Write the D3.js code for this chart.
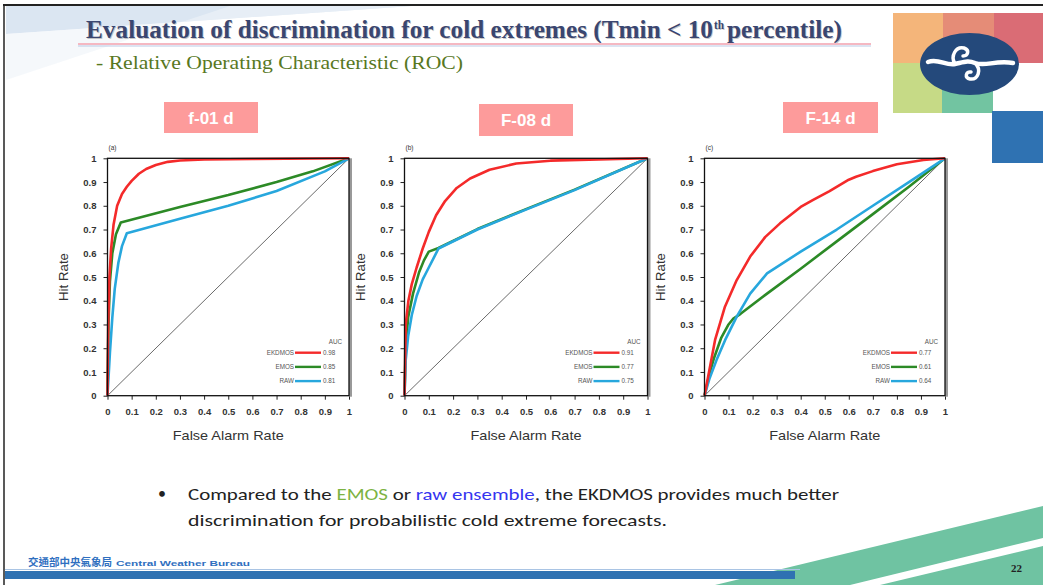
<!DOCTYPE html>
<html>
<head>
<meta charset="utf-8">
<script src="https://cdn.jsdelivr.net/npm/d3@7"></script>
<style>
  html, body { margin: 0; padding: 0; background: #fff; }
  svg { display: block; }
</style>
</head>
<body>
<svg id="slide" width="1043" height="585"></svg>
<script>
// ---- ROC data: [false alarm rate, hit rate] ----
const panelTitles = ["f-01 d", "F-08 d", "F-14 d"];
const panelTags = ["(a)", "(b)", "(c)"];
const seriesNames = ["EKDMOS", "EMOS", "RAW"];
const seriesColors = ["#f42a2a", "#2c8a26", "#27a7dd"];
const ticks = [0, 0.1, 0.2, 0.3, 0.4, 0.5, 0.6, 0.7, 0.8, 0.9, 1];
const tickLabels = ["0", "0.1", "0.2", "0.3", "0.4", "0.5", "0.6", "0.7", "0.8", "0.9", "1"];

const aucA = ["0.98", "0.85", "0.81"];
const aucB = ["0.91", "0.77", "0.75"];
const aucC = ["0.77", "0.61", "0.64"];

const ekdmosA = [[0,0],[0.003,0.3],[0.008,0.5],[0.015,0.62],[0.025,0.72],[0.04,0.8],[0.06,0.85],[0.08,0.88],[0.1,0.905],[0.13,0.935],[0.16,0.955],[0.2,0.972],[0.25,0.985],[0.3,0.991],[0.4,0.995],[0.6,0.997],[1,1]];
const emosA = [[0,0],[0.004,0.3],[0.01,0.48],[0.02,0.6],[0.035,0.68],[0.055,0.73],[0.3,0.795],[0.5,0.845],[0.7,0.9],[0.85,0.945],[1,1]];
const rawA = [[0,0],[0.01,0.18],[0.02,0.33],[0.03,0.45],[0.045,0.56],[0.06,0.63],[0.08,0.684],[0.3,0.745],[0.5,0.8],[0.7,0.862],[0.9,0.945],[1,1]];

const ekdmosB = [[0,0],[0.005,0.3],[0.016,0.4],[0.03,0.47],[0.05,0.54],[0.075,0.62],[0.1,0.69],[0.13,0.76],[0.167,0.82],[0.215,0.875],[0.27,0.915],[0.35,0.952],[0.46,0.978],[0.6,0.99],[1,1]];
const emosB = [[0,0],[0.005,0.2],[0.015,0.33],[0.035,0.43],[0.06,0.52],[0.08,0.57],[0.1,0.607],[0.14,0.622],[0.3,0.702],[0.5,0.786],[0.7,0.868],[1,1]];
const rawB = [[0,0],[0.005,0.15],[0.015,0.25],[0.03,0.34],[0.05,0.42],[0.075,0.49],[0.1,0.54],[0.125,0.59],[0.14,0.62],[0.3,0.7],[0.5,0.784],[0.7,0.866],[1,1]];

const ekdmosC = [[0,0],[0.017,0.09],[0.044,0.235],[0.085,0.375],[0.134,0.487],[0.19,0.586],[0.252,0.668],[0.314,0.726],[0.4,0.795],[0.45,0.824],[0.52,0.862],[0.6,0.91],[0.63,0.922],[0.7,0.946],[0.8,0.975],[0.91,0.993],[1,1]];
const emosC = [[0,0],[0.02,0.09],[0.04,0.16],[0.07,0.245],[0.1,0.3],[0.12,0.325],[0.15,0.345],[0.26,0.43],[0.4,0.535],[0.55,0.65],[0.7,0.765],[0.85,0.88],[1,1]];
const rawC = [[0,0],[0.02,0.07],[0.05,0.15],[0.086,0.235],[0.134,0.333],[0.19,0.43],[0.26,0.515],[0.4,0.607],[0.55,0.7],[0.7,0.8],[0.85,0.9],[1,1]];

const panelSeries = [[ekdmosA, emosA, rawA], [ekdmosB, emosB, rawB], [ekdmosC, emosC, rawC]];
const panelAuc = [aucA, aucB, aucC];

// ---- layout ----
const plots = [
  { left: 107.5, right: 349, top: 158.3, bottom: 395.7, badge: [164, 102, 94, 31] },
  { left: 404.5, right: 647.5, top: 158.3, bottom: 395.7, badge: [479, 104, 94, 32] },
  { left: 704.5, right: 945, top: 158.3, bottom: 395.7, badge: [783, 102, 95, 31] }
];

const svg = d3.select("#slide");

// ---- slide background decoration ----
svg.append("rect").attr("width", 1043).attr("height", 585).attr("fill", "#fff");
svg.append("path")
  .attr("d", "M6,6 L412,6 L6,34 Z")
  .attr("fill", "#dbe6f2");
svg.append("path")
  .attr("d", "M6,34 L412,6 L230,6 L6,80 Z")
  .attr("fill", "#eef3f9").attr("opacity", 0.6);

// frame lines
svg.append("line").attr("x1", 3).attr("x2", 1043).attr("y1", 5).attr("y2", 5)
  .attr("stroke", "#222").attr("stroke-width", 2);
svg.append("line").attr("x1", 4).attr("x2", 4).attr("y1", 5).attr("y2", 585)
  .attr("stroke", "#222").attr("stroke-width", 1.5);

// logo tiles
const tiles = [
  [893, 13, 50, 50, "#f4b57a"], [943, 13, 51, 50, "#e58c77"], [994, 13, 49, 50, "#da6c75"],
  [893, 63, 49, 50, "#c6da86"], [942, 63, 51, 50, "#72c4a1"], [992, 111, 51, 52, "#2f72b2"]
];
svg.append("g").selectAll("rect").data(tiles).join("rect")
  .attr("x", d => d[0]).attr("y", d => d[1]).attr("width", d => d[2]).attr("height", d => d[3])
  .attr("fill", d => d[4]);
svg.append("ellipse").attr("cx", 969.5).attr("cy", 64).attr("rx", 49.5).attr("ry", 31)
  .attr("fill", "#24497b");
const swirl = svg.append("g").attr("fill", "none").attr("stroke", "#fff")
  .attr("stroke-linecap", "round").attr("stroke-linejoin", "round");
swirl.append("path").attr("d", "M928,62 C938,58 946,66 955,64 C964,62 968,60 975,63 C985,67 995,60 1013,63")
  .attr("stroke-width", 4.5);
swirl.append("path").attr("d", "M955,64 C950,56 956,46 964,48 C970,50 968,56 963,56")
  .attr("stroke-width", 3.5);
swirl.append("path").attr("d", "M975,63 C982,70 978,80 970,79 C964,78 966,71 971,72")
  .attr("stroke-width", 3.5);

// ---- title ----
const title = svg.append("g").attr("font-family", "'Liberation Serif', 'Times New Roman', serif")
  .attr("font-weight", "bold");
[[1, "rgba(0,0,0,0.22)"], [0, "#3a4670"]].forEach(([off, col]) => {
  const g = title.append("g").attr("transform", `translate(${off},${off})`).attr("fill", col);
  g.append("text").attr("x", 86).attr("y", 38).attr("font-size", 25)
    .attr("textLength", 627).attr("lengthAdjust", "spacingAndGlyphs")
    .text("Evaluation of discrimination for cold extremes (Tmin < 10");
  g.append("text").attr("x", 714).attr("y", 29).attr("font-size", 13)
    .attr("textLength", 10).attr("lengthAdjust", "spacingAndGlyphs").text("th");
  g.append("text").attr("x", 727).attr("y", 38).attr("font-size", 25)
    .attr("textLength", 115).attr("lengthAdjust", "spacingAndGlyphs").text("percentile)");
});
svg.append("line").attr("x1", 78).attr("x2", 871).attr("y1", 44).attr("y2", 44)
  .attr("stroke", "#f5b8c2").attr("stroke-width", 2);
svg.append("line").attr("x1", 78).attr("x2", 871).attr("y1", 46).attr("y2", 46)
  .attr("stroke", "#b9c9e6").attr("stroke-width", 1.2);

svg.append("text").attr("x", 96).attr("y", 69)
  .attr("font-family", "'Liberation Serif', 'Times New Roman', serif")
  .attr("font-size", 19).attr("fill", "#58781f")
  .attr("textLength", 367).attr("lengthAdjust", "spacingAndGlyphs")
  .text("- Relative Operating Characteristic (ROC)");

// ---- ROC panels ----
const fontAxis = "'Liberation Sans', Arial, Helvetica, sans-serif";

plots.forEach((p, i) => {
  const x = d3.scaleLinear().domain([0, 1]).range([p.left, p.right]);
  const y = d3.scaleLinear().domain([0, 1]).range([p.bottom, p.top]);
  const g = svg.append("g");

  // badge
  const b = p.badge;
  g.append("rect").attr("x", b[0]).attr("y", b[1]).attr("width", b[2]).attr("height", b[3])
    .attr("fill", "#fd9b9b");
  g.append("text").attr("x", b[0] + b[2] / 2).attr("y", b[1] + b[3] / 2 + 6)
    .attr("text-anchor", "middle").attr("font-family", fontAxis)
    .attr("font-weight", "bold").attr("font-size", 17).attr("fill", "#fff")
    .text(panelTitles[i]);

  // panel tag
  g.append("text").attr("x", p.left + 1).attr("y", p.top - 8)
    .attr("font-family", fontAxis).attr("font-size", 6.5).attr("fill", "#333")
    .text(panelTags[i]);

  // axes
  const xAxis = d3.axisBottom(x).tickValues(ticks).tickFormat((d, k) => tickLabels[k])
    .tickSizeInner(4).tickSizeOuter(0).tickPadding(9);
  const yAxis = d3.axisLeft(y).tickValues(ticks).tickFormat((d, k) => tickLabels[k])
    .tickSizeInner(4).tickSizeOuter(0).tickPadding(7);
  const gx = g.append("g").attr("transform", `translate(0,${p.bottom})`).call(xAxis);
  const gy = g.append("g").attr("transform", `translate(${p.left},0)`).call(yAxis);
  [gx, gy].forEach(ax => {
    ax.select(".domain").remove();
    ax.selectAll(".tick line").attr("stroke", "#222").attr("stroke-width", 1);
    ax.selectAll(".tick text").attr("font-family", fontAxis).attr("font-size", 9.5)
      .attr("font-weight", "bold").attr("fill", "#333");
  });

  // axis titles
  g.append("text").attr("transform", `translate(${p.left - 40},${(p.top + p.bottom) / 2}) rotate(-90)`)
    .attr("text-anchor", "middle").attr("font-family", fontAxis).attr("font-size", 13.5)
    .attr("fill", "#333").attr("textLength", 48).attr("lengthAdjust", "spacingAndGlyphs")
    .text("Hit Rate");
  g.append("text").attr("x", (p.left + p.right) / 2).attr("y", p.bottom + 44)
    .attr("text-anchor", "middle").attr("font-family", fontAxis).attr("font-size", 13.5)
    .attr("fill", "#333").attr("textLength", 111).attr("lengthAdjust", "spacingAndGlyphs")
    .text("False Alarm Rate");

  // no-skill diagonal
  g.append("line").attr("x1", x(0)).attr("y1", y(0)).attr("x2", x(1)).attr("y2", y(1))
    .attr("stroke", "#444").attr("stroke-width", 0.8);

  // curves: EMOS, then RAW, then EKDMOS on top
  const line = d3.line().x(d => x(d[0])).y(d => y(d[1]));
  [1, 2, 0].forEach(k => {
    g.append("path").datum(panelSeries[i][k]).attr("d", line)
      .attr("fill", "none").attr("stroke", seriesColors[k]).attr("stroke-width", 2.6)
      .attr("stroke-linejoin", "round");
  });

  // frame with shaded right edge
  g.append("rect").attr("x", p.right).attr("y", p.top).attr("width", 3).attr("height", p.bottom - p.top + 1)
    .attr("fill", "#999");
  g.append("rect").attr("x", p.left).attr("y", p.top).attr("width", p.right - p.left).attr("height", p.bottom - p.top)
    .attr("fill", "none").attr("stroke", "#111").attr("stroke-width", 1.3);

  // legend
  const lg = g.append("g").attr("font-family", fontAxis).attr("font-size", 6.3).attr("fill", "#555");
  lg.append("text").attr("x", p.right - 7).attr("y", p.bottom - 52).attr("text-anchor", "end").text("AUC");
  seriesNames.forEach((name, k) => {
    const yy = p.bottom - 43 + k * 14.2;
    lg.append("text").attr("x", p.right - 55).attr("y", yy + 2.2).attr("text-anchor", "end").text(name);
    lg.append("line").attr("x1", p.right - 54).attr("x2", p.right - 28).attr("y1", yy).attr("y2", yy)
      .attr("stroke", seriesColors[k]).attr("stroke-width", 2.4);
    lg.append("text").attr("x", p.right - 26).attr("y", yy + 2.2).text(panelAuc[i][k]);
  });
});

// ---- bullet text ----
const bodyFont = "Carlito, Lato, 'Open Sans', sans-serif";
svg.append("text").attr("x", 158).attr("y", 499).attr("font-family", bodyFont)
  .attr("font-size", 16).attr("fill", "#222").text("•");
const l1 = svg.append("text").attr("x", 188).attr("y", 500).attr("font-family", bodyFont)
  .attr("font-size", 16.5).attr("fill", "#222")
  .attr("textLength", 651).attr("lengthAdjust", "spacingAndGlyphs");
l1.append("tspan").text("Compared to the ");
l1.append("tspan").attr("fill", "#7cb342").text("EMOS");
l1.append("tspan").text(" or ");
l1.append("tspan").attr("fill", "#3535f0").text("raw ensemble");
l1.append("tspan").text(", the EKDMOS provides much better");
svg.append("text").attr("x", 188).attr("y", 526).attr("font-family", bodyFont)
  .attr("font-size", 16.5).attr("fill", "#222")
  .attr("textLength", 479).attr("lengthAdjust", "spacingAndGlyphs")
  .text("discrimination for probabilistic cold extreme forecasts.");

// ---- footer ----
svg.append("path").attr("d", "M715,585 L1043,506 L1043,585 Z").attr("fill", "#6fc3a2");
svg.append("path").attr("d", "M850,585 L1043,538 L1043,546 L880,585 Z").attr("fill", "#fff");
svg.append("rect").attr("x", 5).attr("y", 571).attr("width", 790).attr("height", 8).attr("fill", "#2f72b2");
svg.append("line").attr("x1", 5).attr("x2", 800).attr("y1", 569.5).attr("y2", 569.5)
  .attr("stroke", "#a9c4e4").attr("stroke-width", 1);
svg.append("text").attr("x", 28).attr("y", 566).attr("font-family", "'Noto Sans CJK TC', sans-serif")
  .attr("font-size", 10).attr("font-weight", "bold").attr("fill", "#2f6fc0")
  .attr("textLength", 84).attr("lengthAdjust", "spacingAndGlyphs")
  .text("交通部中央氣象局");
svg.append("text").attr("x", 116).attr("y", 566).attr("font-family", fontAxis)
  .attr("font-size", 8).attr("font-weight", "bold").attr("fill", "#2f6fc0")
  .attr("textLength", 134).attr("lengthAdjust", "spacingAndGlyphs")
  .text("Central Weather Bureau");
svg.append("text").attr("x", 1011).attr("y", 572).attr("font-family", "'Liberation Serif', serif")
  .attr("font-size", 11).attr("font-weight", "bold").attr("fill", "#222").text("22");
</script>
</body>
</html>
